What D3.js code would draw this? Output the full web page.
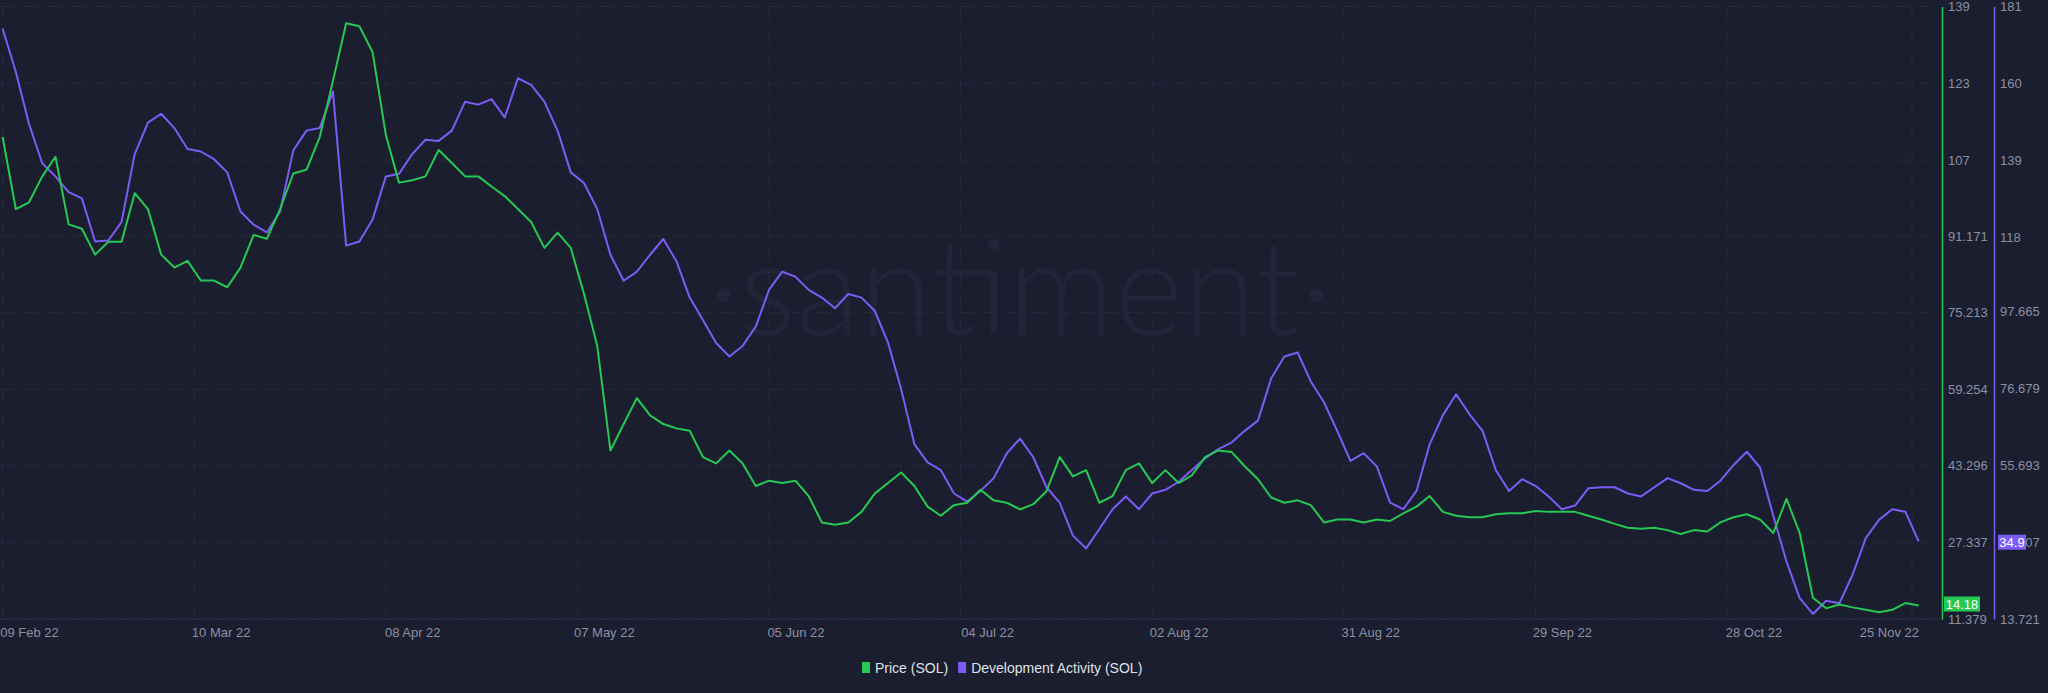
<!DOCTYPE html>
<html>
<head>
<meta charset="utf-8">
<script src="https://cdn.jsdelivr.net/npm/d3@7"></script>
<style>
  html, body { margin: 0; padding: 0; background: #1b1e2e; }
  svg { display: block; }
</style>
</head>
<body>
<svg id="chart"></svg>
<script>
// samples every 2 days starting 05 Feb 2022
const startDate = '2022-02-05';
const stepDays = 2;

const price = [
  111.8, 96.8, 98.2, 103.6, 107.7, 93.6, 92.7, 87.3, 90.0, 90.0,
  100.1, 96.8, 87.3, 84.6, 86.0, 81.9, 81.9, 80.5, 84.6, 91.4,
  90.6, 96.8, 104.2, 105.0, 111.8, 123.5, 135.5, 134.9, 129.5, 112.3,
  102.3, 102.8, 103.6, 109.1, 106.4, 103.6, 103.6, 101.5, 99.5, 96.8,
  94.1, 88.7, 91.9, 88.7, 79.1, 68.3, 46.5, 52.0, 57.4, 53.8,
  52.0, 51.1, 50.6, 45.1, 43.8, 46.5, 43.8, 39.1, 40.2, 39.7,
  40.2, 37.0, 31.5, 31.0, 31.5, 33.7, 37.5, 39.7, 41.9, 39.1,
  34.8, 32.9, 35.1, 35.6, 38.3, 36.1, 35.6, 34.2, 35.3, 38.0,
  45.1, 41.1, 42.4, 35.6, 37.0, 42.4, 43.8, 39.7, 42.4, 39.7,
  41.3, 45.1, 46.5, 46.2, 43.2, 40.5, 36.7, 35.6, 36.1, 35.1,
  31.5, 32.1, 32.1, 31.5, 32.1, 31.8, 33.4, 34.8, 37.0, 33.7,
  32.9, 32.6, 32.6, 33.2, 33.4, 33.4, 33.9, 33.7, 33.7, 33.7,
  32.9, 32.1, 31.2, 30.4, 30.2, 30.4, 29.9, 29.1, 29.9, 29.6,
  31.5, 32.6, 33.2, 32.1, 29.3, 36.4, 29.3, 15.8, 13.6, 14.4,
  13.8, 13.3, 12.8, 13.3, 14.7, 14.18
];

const devActivity = [
  175.0, 163.2, 148.9, 138.2, 134.6, 130.3, 128.6, 116.8, 117.1, 122.1,
  140.7, 149.3, 151.7, 147.8, 142.1, 141.4, 139.3, 135.7, 125.0, 121.4,
  119.3, 125.0, 141.7, 147.1, 147.8, 157.8, 115.7, 116.8, 122.8, 134.6,
  135.3, 140.7, 144.6, 144.3, 147.1, 155.0, 154.2, 155.7, 150.7, 161.4,
  159.6, 155.0, 147.1, 135.7, 132.8, 125.7, 113.2, 106.1, 108.6, 113.2,
  117.5, 111.4, 101.5, 95.4, 89.1, 85.4, 88.3, 93.6, 103.6, 108.6,
  107.2, 103.6, 101.5, 98.6, 102.5, 101.5, 97.9, 89.3, 76.5, 61.5,
  56.5, 54.4, 48.0, 45.8, 48.7, 52.2, 59.0, 63.0, 57.9, 49.7,
  45.5, 36.5, 33.0, 38.3, 43.7, 47.2, 43.7, 48.0, 49.0, 51.2,
  54.4, 57.6, 60.1, 61.9, 65.1, 67.9, 79.4, 85.4, 86.5, 78.6,
  72.9, 65.1, 56.9, 59.0, 55.4, 45.5, 43.7, 48.7, 61.5, 69.4,
  75.1, 69.7, 65.1, 54.4, 48.7, 51.9, 50.1, 47.2, 43.7, 44.7,
  49.4, 49.7, 49.7, 48.0, 47.2, 49.7, 52.2, 50.8, 49.0, 48.7,
  51.5, 55.8, 59.4, 55.1, 41.9, 29.4, 19.4, 15.1, 18.7, 18.0,
  25.8, 35.8, 40.8, 43.7, 43.0, 34.9
];

const xTickLabels = ['09 Feb 22', '10 Mar 22', '08 Apr 22', '07 May 22', '05 Jun 22', '04 Jul 22',
  '02 Aug 22', '31 Aug 22', '29 Sep 22', '28 Oct 22', '25 Nov 22'];
const priceTicks = [139, 123, 107, 91.171, 75.213, 59.254, 43.296, 27.337, 11.379];
const devTicks = [181, 160, 139, 118, 97.665, 76.679, 55.693, 34.707, 13.721];

const width = 2048, height = 693;
const green = '#26c953', purple = '#7c5cf6';
const axisText = '#8b90a4', grid = '#262a3c';

const parse = d3.timeParse('%Y-%m-%d');
const t0 = parse(startDate);
const priceData = price.map((v, i) => ({ date: d3.timeDay.offset(t0, i * stepDays), value: v }));
const devData = devActivity.map((v, i) => ({ date: d3.timeDay.offset(t0, i * stepDays), value: v }));

const svg = d3.select('#chart').attr('width', width).attr('height', height)
  .style('background', '#1b1e2e')
  .style('font-family', '"Liberation Sans", Arial, sans-serif');

const plotTop = 6.5, plotBottom = 619, priceAxisX = 1942, devAxisX = 1994;

const x = d3.scaleTime()
  .domain([t0, parse('2022-11-25')])
  .range([2.6, 2.6 + 293 * 6.607]);
const yPrice = d3.scaleLinear().domain([11.379, 139]).range([plotBottom, plotTop]);
const yDev = d3.scaleLinear().domain([13.721, 181]).range([plotBottom, plotTop]);

// watermark
svg.append('text')
  .attr('x', 1020).attr('y', 335)
  .attr('text-anchor', 'middle')
  .style('font-family', 'Lato, "Open Sans", sans-serif')
  .style('font-weight', 300)
  .style('font-size', '132px')
  .style('fill', '#222538')
  .text('·santiment·');

// horizontal grid
svg.append('g').selectAll('line').data(priceTicks).join('line')
  .attr('x1', 0).attr('x2', priceAxisX - 10)
  .attr('y1', d => yPrice(d)).attr('y2', d => yPrice(d))
  .attr('stroke', grid).attr('stroke-dasharray', '14,10');

// vertical grid
const tickDates = xTickLabels.map(d3.timeParse('%d %b %y'));
svg.append('g').selectAll('line').data(tickDates).join('line')
  .attr('x1', d => x(d3.timeDay.offset(d, -4))).attr('x2', d => x(d3.timeDay.offset(d, -4)))
  .attr('y1', plotTop).attr('y2', plotBottom)
  .attr('stroke', grid).attr('stroke-dasharray', '14,10');

// bottom baseline
svg.append('line').attr('x1', 0).attr('x2', priceAxisX).attr('y1', plotBottom).attr('y2', plotBottom)
  .attr('stroke', '#2b2f42');

// x axis labels
const xAxis = d3.axisBottom(x).tickValues(tickDates).tickSize(0).tickPadding(9)
  .tickFormat(d3.timeFormat('%d %b %y'));
const gx = svg.append('g').attr('transform', `translate(0,${plotBottom})`).call(xAxis);
gx.select('.domain').remove();
gx.selectAll('text').style('fill', axisText).style('font-size', '13px');
gx.selectAll('.tick:last-child text').attr('text-anchor', 'end').attr('dx', -20);

// lines
const line = y => d3.line().x(d => x(d.date)).y(d => y(d.value));
svg.append('path').datum(devData)
  .attr('d', line(yDev)).attr('fill', 'none').attr('stroke', purple).attr('stroke-width', 2)
  .attr('stroke-linejoin', 'round');
svg.append('path').datum(priceData)
  .attr('d', line(yPrice)).attr('fill', 'none').attr('stroke', green).attr('stroke-width', 2)
  .attr('stroke-linejoin', 'round');

// right axes
const gp = svg.append('g').attr('transform', `translate(${priceAxisX},0)`)
  .call(d3.axisRight(yPrice).tickValues(priceTicks).tickSize(0).tickPadding(6).tickFormat(d => d));
gp.select('.domain').attr('stroke', green).attr('stroke-width', 1.5);
gp.selectAll('text').style('fill', axisText).style('font-size', '13px');

const gd = svg.append('g').attr('transform', `translate(${devAxisX},0)`)
  .call(d3.axisRight(yDev).tickValues(devTicks).tickSize(0).tickPadding(6).tickFormat(d => d));
gd.select('.domain').attr('stroke', purple).attr('stroke-width', 1.5);
gd.selectAll('text').style('fill', axisText).style('font-size', '13px');

// last value badges
function badge(xPos, yPos, w, color, label) {
  const g = svg.append('g');
  g.append('rect').attr('x', xPos).attr('y', yPos - 7.5).attr('width', w).attr('height', 15).attr('fill', color);
  g.append('text').attr('x', xPos + w / 2).attr('y', yPos + 4.5).attr('text-anchor', 'middle')
    .style('fill', '#fff').style('font-size', '13px').text(label);
}
badge(priceAxisX + 2, 604, 36, green, d3.format('.2f')(price[price.length - 1]));
badge(devAxisX + 4, yDev(34.707), 28, purple, devActivity[devActivity.length - 1]);

// legend
const legend = svg.append('g').attr('transform', 'translate(862,668)');
const items = [{ label: 'Price (SOL)', color: green }, { label: 'Development Activity (SOL)', color: purple }];
let lx = 0;
items.forEach(it => {
  legend.append('rect').attr('x', lx).attr('y', -6).attr('width', 8).attr('height', 11).attr('fill', it.color);
  const t = legend.append('text').attr('x', lx + 13).attr('y', 5)
    .style('fill', '#dfe2ea').style('font-size', '14px').text(it.label);
  lx += 13 + t.node().getComputedTextLength() + 10;
});
</script>
</body>
</html>
